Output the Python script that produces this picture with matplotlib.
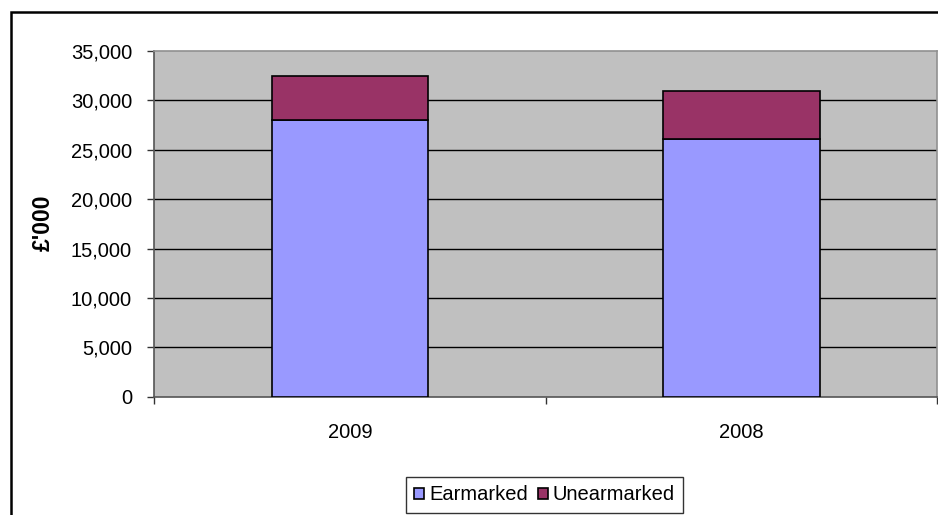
import matplotlib
matplotlib.use("Agg")
import matplotlib.pyplot as plt
from matplotlib.patches import Rectangle
import numpy as np

categories = ["2009", "2008"]
earmarked = [28000, 26100]
unearmarked = [4500, 4900]
series_names = ["Earmarked", "Unearmarked"]
yticks = [0, 5000, 10000, 15000, 20000, 25000, 30000, 35000]
ytick_labels = ["0", "5,000", "10,000", "15,000", "20,000", "25,000", "30,000", "35,000"]

plt.rcParams['font.family'] = ['Liberation Sans', 'DejaVu Sans']
fs = 14.5

W, H = 938, 515
fig = plt.figure(figsize=(W/100, H/100), dpi=100)
fig.patch.set_facecolor('white')

l, r, t, b = 154.3, 937.0, 51.0, 396.7
ax = fig.add_axes([l/W, 1-b/H, (r-l)/W, (b-t)/H])
ax.set_facecolor('#C0C0C0')

x = np.arange(len(categories))
ax.bar(x, earmarked, width=0.4, color='#9999FF', edgecolor='black', linewidth=1.2,
       label=series_names[0], zorder=3)
ax.bar(x, unearmarked, width=0.4, bottom=earmarked, color='#993366', edgecolor='black',
       linewidth=1.2, label=series_names[1], zorder=3)

ax.set_xlim(-0.5, 1.5)
ax.set_ylim(0, 35000)
ax.set_yticks(yticks)
ax.set_yticklabels(ytick_labels)
ax.set_xticks(x)
ax.set_xticklabels(categories)
ax.set_xticks([-0.5, 0.5, 1.5], minor=True)
ax.tick_params(axis='x', which='major', length=0, pad=19, labelsize=fs)
ax.tick_params(axis='x', which='minor', length=5, width=1, color='#333333', direction='out')
ax.tick_params(axis='y', which='major', length=5, width=1, color='#333333', pad=11, labelsize=fs)

for yv in yticks[1:-1]:
    ax.axhline(yv, color='black', linewidth=1.0, zorder=1)

for s in ['top', 'right']:
    ax.spines[s].set_color('#909090')
    ax.spines[s].set_linewidth(1.2)
for s in ['left', 'bottom']:
    ax.spines[s].set_color('#555555')
    ax.spines[s].set_linewidth(1.2)

fig.text(43/W, 1-223/H, "£'000", rotation=90, ha='center', va='center',
         fontsize=16.5, fontweight='bold')

# outer chart border
fig.add_artist(Rectangle((11/W, -0.1), 1.2, 1-12/H+0.1, transform=fig.transFigure,
                         fill=False, edgecolor='black', linewidth=1.8))

leg = fig.legend(loc='center', bbox_to_anchor=((406.7+682.3)/2/W, 1-495/H),
                 ncol=2, fontsize=fs, frameon=True, fancybox=False,
                 handlelength=0.5, handleheight=0.5, handletextpad=0.25,
                 columnspacing=0.5, borderpad=0.4, borderaxespad=0)
leg.get_frame().set_edgecolor('black')
leg.get_frame().set_linewidth(1.0)

fig.savefig("out.png", dpi=100)
